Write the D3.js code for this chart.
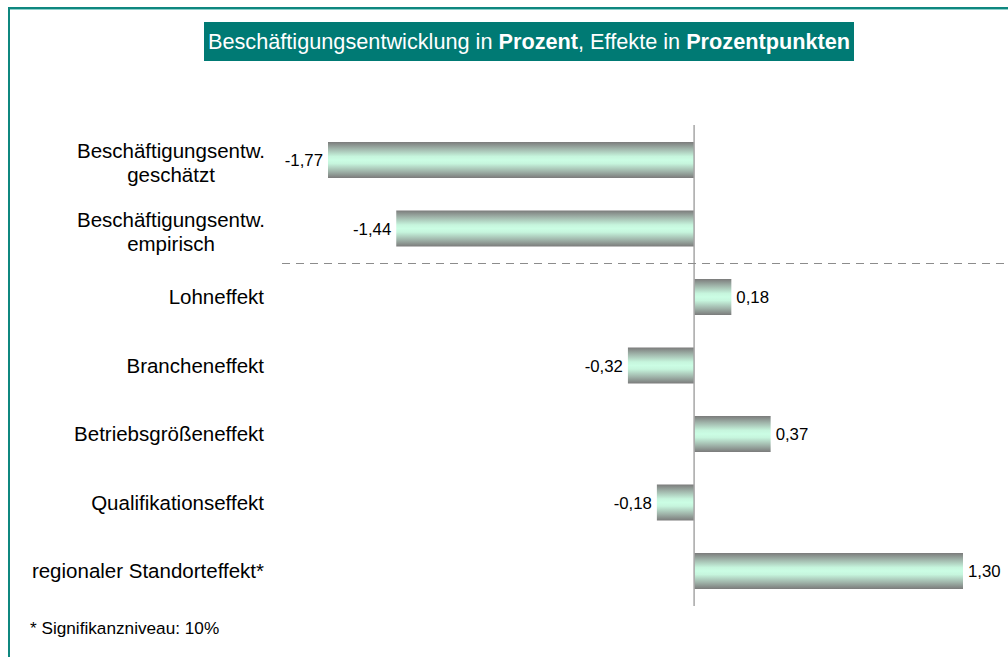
<!DOCTYPE html>
<html>
<head>
<meta charset="utf-8">
<script src="https://cdn.jsdelivr.net/npm/d3@7"></script>
<style>
  body { margin: 0; background: #fff; }
  svg { display: block; font-family: "Liberation Sans", Arial, sans-serif; }
</style>
</head>
<body>
<svg id="gfx"></svg>
<script>
const categories = [
    ["Beschäftigungsentw.", "geschätzt"],
    ["Beschäftigungsentw.", "empirisch"],
    ["Lohneffekt"],
    ["Brancheneffekt"],
    ["Betriebsgrößeneffekt"],
    ["Qualifikationseffekt"],
    ["regionaler Standorteffekt*"]
];
const values = [-1.77, -1.44, 0.18, -0.32, 0.37, -0.18, 1.30];
const valueLabels = ["-1,77", "-1,44", "0,18", "-0,32", "0,37", "-0,18", "1,30"];

const width = 1008, height = 657;
const svg = d3.select("#gfx").attr("width", width).attr("height", height)
    .attr("viewBox", "0 0 " + width + " " + height);

// frame lines (top and left)
svg.append("line").attr("x1", 8).attr("x2", width).attr("y1", 8).attr("y2", 8)
    .attr("stroke", "#0f877f").attr("stroke-width", 2);
svg.append("line").attr("x1", 8).attr("x2", width).attr("y1", 9.5).attr("y2", 9.5)
    .attr("stroke", "#8fd0cb").attr("stroke-width", 1);
svg.append("line").attr("x1", 9).attr("x2", 9).attr("y1", 7).attr("y2", height)
    .attr("stroke", "#0f877f").attr("stroke-width", 2);

// title box
svg.append("rect").attr("x", 204).attr("y", 22).attr("width", 650).attr("height", 39)
    .attr("fill", "#007a74");
const title = svg.append("text").attr("x", 529).attr("y", 49)
    .attr("text-anchor", "middle").attr("fill", "#fff").attr("font-size", 21.7);
title.append("tspan").text("Beschäftigungsentwicklung in ");
title.append("tspan").attr("font-weight", "bold").text("Prozent");
title.append("tspan").text(", Effekte in ");
title.append("tspan").attr("font-weight", "bold").text("Prozentpunkten");

// scales
const x = d3.scaleLinear().domain([-1.77, 1.30]).range([328, 963]);
const y = d3.scaleBand().domain(d3.range(values.length)).range([125.75, 605.25]).paddingInner(0.47).paddingOuter(0.235);

const defs = svg.append("defs");
const grad = defs.append("linearGradient").attr("id", "barGrad")
    .attr("x1", 0).attr("y1", 0).attr("x2", 0).attr("y2", 1);
[[0, "#7b7b7b"], [0.18, "#9fb3a9"], [0.4, "#c6f5dd"], [0.5, "#cbfde4"], [0.6, "#c6f5dd"], [0.82, "#9fb3a9"], [1, "#7b7b7b"]]
    .forEach(s => grad.append("stop").attr("offset", s[0]).attr("stop-color", s[1]));

// bars
const bh = 36;
svg.append("g").selectAll("rect").data(values).join("rect")
    .attr("x", d => x(Math.min(0, d)))
    .attr("width", d => Math.abs(x(d) - x(0)))
    .attr("y", (d, i) => y(i) + y.bandwidth() / 2 - bh / 2)
    .attr("height", bh)
    .attr("fill", "url(#barGrad)");

// zero axis
svg.append("line").attr("x1", x(0)).attr("x2", x(0)).attr("y1", 125).attr("y2", 606)
    .attr("stroke", "#a6a6a6").attr("stroke-width", 1.5);

// dashed separator
svg.append("line").attr("x1", 282).attr("x2", 1006).attr("y1", 263.5).attr("y2", 263.5)
    .attr("stroke", "#8c8c8c").attr("stroke-width", 1).attr("stroke-dasharray", "8,6");

// value labels
svg.append("g").selectAll("text").data(values).join("text")
    .attr("x", d => d < 0 ? x(d) - 5 : x(d) + 5)
    .attr("y", (d, i) => y(i) + y.bandwidth() / 2 + 6)
    .attr("text-anchor", d => d < 0 ? "end" : "start")
    .attr("font-size", 16.8).attr("fill", "#000")
    .text((d, i) => valueLabels[i]);

// category labels
const cat = svg.append("g").selectAll("text").data(categories).join("text")
    .attr("font-size", 20.5).attr("fill", "#000").attr("text-anchor", "middle");
cat.each(function (lines, i) {
    const t = d3.select(this);
    const cy = y(i) + y.bandwidth() / 2;
    if (lines.length === 1) {
        t.attr("text-anchor", "end").attr("x", 264).attr("y", cy + 7).text(lines[0]);
    } else {
        t.attr("x", 171);
        t.append("tspan").attr("x", 171).attr("y", cy - 2).text(lines[0]);
        t.append("tspan").attr("x", 171).attr("y", cy + 22).text(lines[1]);
    }
});

// footnote
svg.append("text").attr("x", 30).attr("y", 634).attr("font-size", 17.2)
    .attr("fill", "#000").text("* Signifikanzniveau: 10%");
</script>
</body>
</html>
